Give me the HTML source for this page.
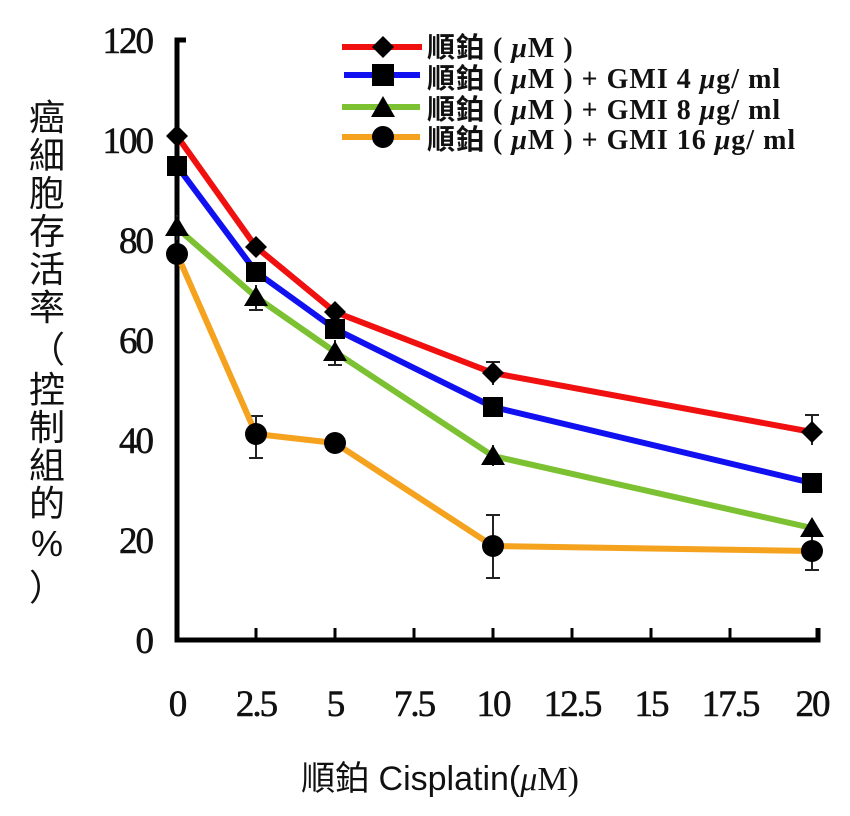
<!DOCTYPE html>
<html><head><meta charset="utf-8"><style>
body{margin:0;background:#fff;}
svg{display:block}
.t{font-family:"Liberation Serif",serif;font-size:37px;fill:#111;letter-spacing:-2px;stroke:#111;stroke-width:0.6}
.c{font-family:"Liberation Sans","Noto Sans CJK TC",sans-serif;fill:#111}
.l{font-family:"Liberation Serif","Noto Sans CJK TC",serif;font-size:28px;font-weight:bold;fill:#111;letter-spacing:1px}
</style></head><body>
<svg width="850" height="816" xmlns="http://www.w3.org/2000/svg">
<g stroke="#000" stroke-width="5" fill="none">
<polyline points="186,40 177,40 177,640 818,640 818,628"/>
</g>
<g stroke="#000" stroke-width="3">
<line x1="256" y1="640" x2="256" y2="628"/><line x1="335" y1="640" x2="335" y2="628"/><line x1="414" y1="640" x2="414" y2="628"/><line x1="493" y1="640" x2="493" y2="628"/><line x1="572" y1="640" x2="572" y2="628"/><line x1="651" y1="640" x2="651" y2="628"/><line x1="730" y1="640" x2="730" y2="628"/>
</g>
<g class="t" text-anchor="end">
<text x="152" y="53">120</text><text x="152" y="153">100</text><text x="152" y="253">80</text><text x="152" y="353">60</text><text x="152" y="453">40</text><text x="152" y="553">20</text><text x="152" y="653">0</text>
</g>
<g class="t" text-anchor="middle">
<text x="177" y="716">0</text><text x="256" y="716">2.5</text><text x="335" y="716">5</text><text x="414" y="716">7.5</text><text x="493" y="716">10</text><text x="572" y="716">12.5</text><text x="651" y="716">15</text><text x="730" y="716">17.5</text><text x="812" y="716">20</text>
</g>
<g stroke="#222" stroke-width="2">
<line x1="256" y1="416" x2="256" y2="458"/><line x1="249" y1="416" x2="263" y2="416"/><line x1="249" y1="458" x2="263" y2="458"/>
<line x1="493" y1="515" x2="493" y2="578"/><line x1="486" y1="515" x2="500" y2="515"/><line x1="486" y1="578" x2="500" y2="578"/>
<line x1="493" y1="362" x2="493" y2="385"/><line x1="486" y1="362" x2="500" y2="362"/>
<line x1="812" y1="415" x2="812" y2="445"/><line x1="805" y1="415" x2="819" y2="415"/>
<line x1="812" y1="535" x2="812" y2="570"/><line x1="805" y1="570" x2="819" y2="570"/>
<line x1="256" y1="285" x2="256" y2="310"/><line x1="249" y1="310" x2="263" y2="310"/>
<line x1="335" y1="340" x2="335" y2="365"/><line x1="328" y1="365" x2="342" y2="365"/>
<line x1="493" y1="445" x2="493" y2="466"/>
<line x1="177" y1="215" x2="177" y2="240"/>
</g>
<g fill="none" stroke-width="6" stroke-linejoin="round">
<polyline stroke="#f5a21f" points="177,254 256,434 335,443 493,546 812,551"/>
<polyline stroke="#7cc132" points="177,228 256,297 335,352 493,456 812,528"/>
<polyline stroke="#1010f0" points="177,166 256,272 335,329 493,407 812,483"/>
<polyline stroke="#f01010" points="177,136 256,247 335,312 493,373 812,432"/>
</g>
<g fill="#000">
<circle cx="177" cy="254" r="11"/><circle cx="256" cy="434" r="11"/><circle cx="335" cy="443" r="11"/><circle cx="493" cy="546" r="11"/><circle cx="812" cy="551" r="11"/>
<polygon points="177,216 189,236 165,236"/><polygon points="256,286 268,306 244,306"/><polygon points="335,341 347,361 323,361"/><polygon points="493,445 505,465 481,465"/><polygon points="812,517 824,537 800,537"/>
<rect x="167" y="156" width="20" height="20"/><rect x="246" y="262" width="20" height="20"/><rect x="325" y="319" width="20" height="20"/><rect x="483" y="397" width="20" height="20"/><rect x="802" y="473" width="20" height="20"/>
<polygon points="177,125 188,136 177,147 166,136"/><polygon points="256,236 267,247 256,258 245,247"/><polygon points="335,301 346,312 335,323 324,312"/><polygon points="493,362 504,373 493,384 482,373"/><polygon points="812,421 823,432 812,443 801,432"/>
</g>
<g stroke-width="6">
<line x1="342" y1="47" x2="422" y2="47" stroke="#f01010"/>
<line x1="344" y1="75" x2="420" y2="75" stroke="#1010f0"/>
<line x1="342" y1="107" x2="420" y2="107" stroke="#7cc132"/>
<line x1="342" y1="137" x2="420" y2="137" stroke="#f5a21f"/>
</g>
<g fill="#000">
<polygon points="383,36 394,47 383,58 372,47"/>
<rect x="372" y="64" width="22" height="22"/>
<polygon points="383,96 395,117 371,117"/>
<circle cx="383" cy="137" r="11"/>
</g>
<g class="l">
<text x="427" y="57">順鉑 ( <tspan font-style="italic">μ</tspan>M )</text>
<text x="427" y="88">順鉑 ( <tspan font-style="italic">μ</tspan>M ) + GMI 4 <tspan font-style="italic">μ</tspan>g/ ml</text>
<text x="427" y="119">順鉑 ( <tspan font-style="italic">μ</tspan>M ) + GMI 8 <tspan font-style="italic">μ</tspan>g/ ml</text>
<text x="427" y="149">順鉑 ( <tspan font-style="italic">μ</tspan>M ) + GMI 16 <tspan font-style="italic">μ</tspan>g/ ml</text>
</g>
<g class="c" font-size="36" text-anchor="middle">
<text x="47" y="130">癌</text><text x="47" y="168">細</text><text x="47" y="206">胞</text><text x="47" y="244">存</text><text x="47" y="282">活</text><text x="47" y="320">率</text>
<text x="47" y="362">（</text><text x="47" y="402">控</text><text x="47" y="440">制</text><text x="47" y="478">組</text><text x="47" y="516">的</text><text x="47" y="556">%</text><text x="47" y="600">）</text>
</g>
<text class="c" x="440" y="790" font-size="34" text-anchor="middle">順鉑 Cisplatin(<tspan font-family="Liberation Serif" font-style="italic">μ</tspan><tspan font-family="Liberation Serif">M)</tspan></text>
</svg>
</body></html>
